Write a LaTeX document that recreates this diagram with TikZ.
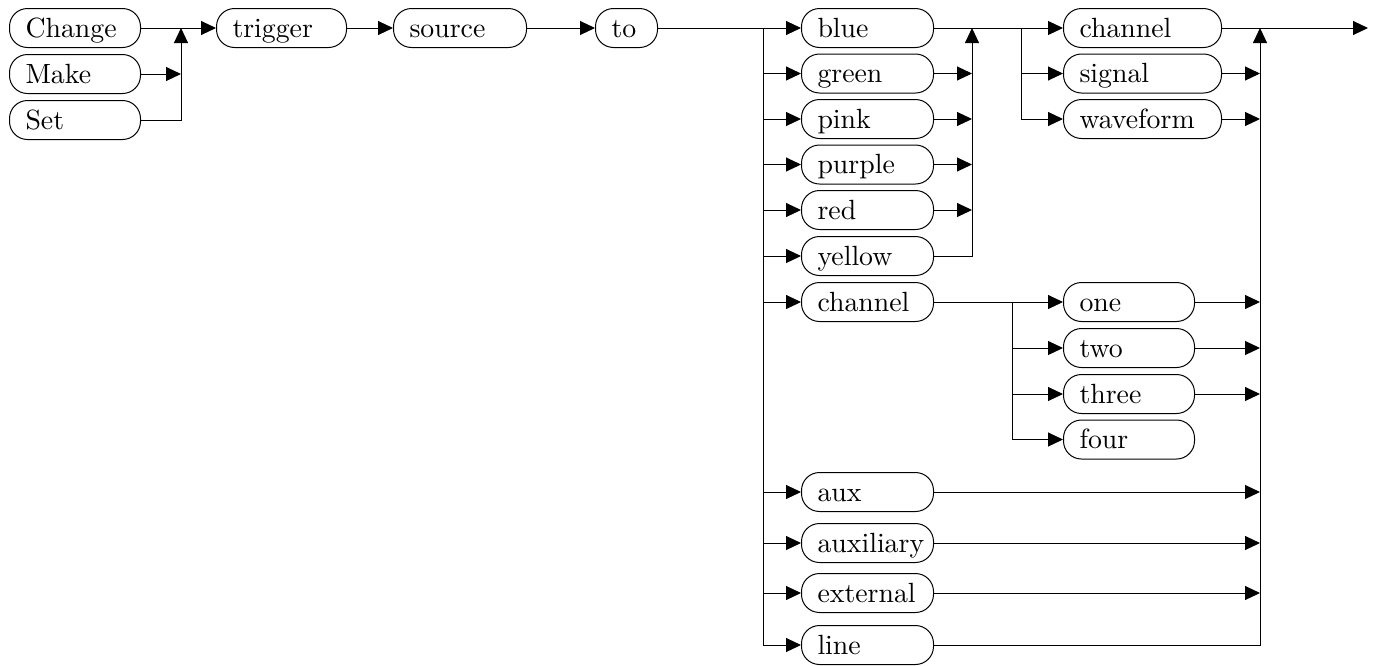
\documentclass[tikz,border=0pt]{standalone}
\usepackage{fontspec}
\setmainfont{lmroman10-regular}[Extension=.otf]
\usetikzlibrary{arrows.meta}
\tikzset{
  rbox/.style={draw, line width=1pt, rounded corners=18pt, minimum height=39pt,
    inner xsep=16pt, inner ysep=0pt, text width=#1-32pt, align=left,
    text height=24pt, text depth=6pt, anchor=west,
    font=\fontsize{27.8}{33}\selectfont},
  conn/.style={line width=1pt},
  arr/.style={conn, -{Triangle[length=15pt,width=14pt]}}
}
\begin{document}
\begin{tikzpicture}[x=1pt,y=-1pt]
\useasboundingbox (0,0) rectangle (1381,665);
% first column
\node[rbox=131pt] (change) at (9,28) {Change};
\node[rbox=131pt] (make) at (9,74) {Make};
\node[rbox=131pt] (set) at (9,120) {Set};
\node[rbox=130pt] (trigger) at (216,28) {trigger};
\node[rbox=133pt] (source) at (393,28) {source};
\node[rbox=62pt] (to) at (595,28) {to};
% colours column
\node[rbox=132pt] (blue) at (801,28) {blue};
\node[rbox=132pt] (green) at (801,73.5) {green};
\node[rbox=132pt] (pink) at (801,119) {pink};
\node[rbox=132pt] (purple) at (801,164.5) {purple};
\node[rbox=132pt] (red) at (801,210) {red};
\node[rbox=132pt] (yellow) at (801,256) {yellow};
\node[rbox=132pt] (chan2) at (801,302) {channel};
\node[rbox=132pt] (aux) at (801,492) {aux};
\node[rbox=132pt] (auxiliary) at (801,543) {auxiliary};
\node[rbox=132pt] (external) at (801,593) {external};
\node[rbox=132pt] (line) at (801,645) {line};
% right columns
\node[rbox=158pt] (chan1) at (1063,28) {channel};
\node[rbox=158pt] (signal) at (1063,73.5) {signal};
\node[rbox=158pt] (waveform) at (1063,119) {waveform};
\node[rbox=131pt] (one) at (1063,302) {one};
\node[rbox=131pt] (two) at (1063,348) {two};
\node[rbox=131pt] (three) at (1063,394) {three};
\node[rbox=131pt] (four) at (1063,439.5) {four};
% junctions
\coordinate (j1) at (181,28);
\coordinate (s1) at (763,28);
\coordinate (c1) at (972,28);
\coordinate (s2) at (1021,28);
\coordinate (c2) at (1260,28);
\coordinate (s3) at (1012,302);
\coordinate (fin) at (1368,28);
% first group
\draw[arr] (change.east) -- (trigger.west);
\draw[arr] (make.east) -- (make.east -| j1);
\draw[arr] (set.east) -| (j1);
\draw[arr] (trigger.east) -- (source.west);
\draw[arr] (source.east) -- (to.west);
\draw[arr] (to.east) -- (blue.west);
% split to colours
\draw[conn] (s1) -- (s1 |- line.west);
\foreach \n in {green,pink,purple,red,yellow,chan2,aux,auxiliary,external,line}
  \draw[arr] (s1 |- \n.west) -- (\n.west);
% collect colours
\foreach \n in {green,pink,purple,red}
  \draw[arr] (\n.east) -- (\n.east -| c1);
\draw[arr] (yellow.east) -| (c1);
% to chan1 / signal / waveform
\draw[arr] (blue.east) -- (chan1.west);
\draw[arr] (s2) |- (signal.west);
\draw[arr] (s2) |- (waveform.west);
% channel numbers
\draw[arr] (chan2.east) -- (one.west);
\draw[arr] (s3) |- (two.west);
\draw[arr] (s3) |- (three.west);
\draw[arr] (s3) |- (four.west);
% collect to end
\draw[arr] (chan1.east) -- (fin);
\foreach \n in {signal,waveform,one,two,three,aux,auxiliary,external}
  \draw[arr] (\n.east) -- (\n.east -| c2);
\draw[arr] (line.east) -| (c2);
\end{tikzpicture}
\end{document}
